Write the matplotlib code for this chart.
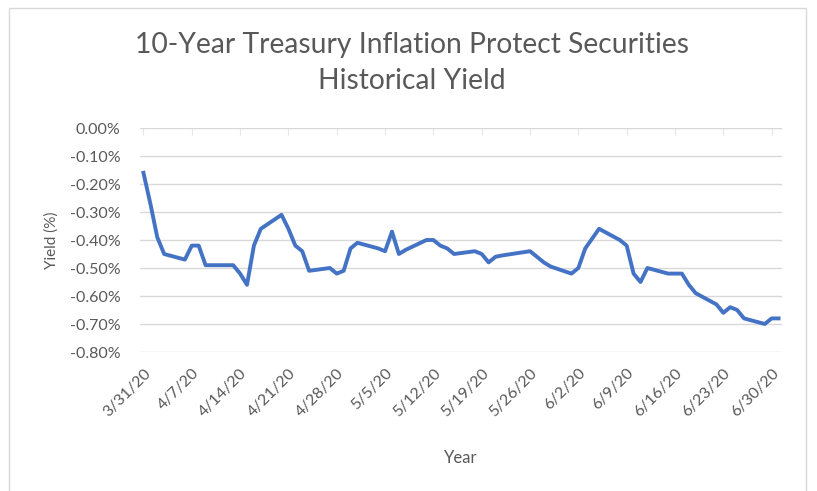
import numpy as np
import pandas as pd
import matplotlib.pyplot as plt
from matplotlib.patches import Rectangle

# TIPS 10-year yield (%), business days
dates = ['3/31/20', '4/1/20', '4/2/20', '4/3/20',
         '4/6/20', '4/7/20', '4/8/20', '4/9/20',
         '4/13/20', '4/14/20', '4/15/20', '4/16/20', '4/17/20',
         '4/20/20', '4/21/20', '4/22/20', '4/23/20', '4/24/20',
         '4/27/20', '4/28/20', '4/29/20', '4/30/20', '5/1/20',
         '5/4/20', '5/5/20', '5/6/20', '5/7/20', '5/8/20',
         '5/11/20', '5/12/20', '5/13/20', '5/14/20', '5/15/20',
         '5/18/20', '5/19/20', '5/20/20', '5/21/20', '5/22/20',
         '5/26/20', '5/27/20', '5/28/20', '5/29/20',
         '6/1/20', '6/2/20', '6/3/20', '6/4/20', '6/5/20',
         '6/8/20', '6/9/20', '6/10/20', '6/11/20', '6/12/20',
         '6/15/20', '6/16/20', '6/17/20', '6/18/20', '6/19/20',
         '6/22/20', '6/23/20', '6/24/20', '6/25/20', '6/26/20',
         '6/29/20', '6/30/20', '7/1/20']
yields = [-0.16, -0.27, -0.39, -0.45,
          -0.47, -0.42, -0.42, -0.49,
          -0.49, -0.52, -0.56, -0.42, -0.36,
          -0.31, -0.36, -0.42, -0.44, -0.51,
          -0.50, -0.52, -0.51, -0.43, -0.41,
          -0.43, -0.44, -0.37, -0.45, -0.435,
          -0.40, -0.40, -0.42, -0.43, -0.45,
          -0.44, -0.45, -0.48, -0.46, -0.455,
          -0.44, -0.46, -0.48, -0.495,
          -0.52, -0.50, -0.43, -0.395, -0.36,
          -0.40, -0.42, -0.52, -0.55, -0.50,
          -0.52, -0.52, -0.52, -0.56, -0.59,
          -0.63, -0.66, -0.64, -0.65, -0.68,
          -0.70, -0.68, -0.68]

tick_labels = ['3/31/20', '4/7/20', '4/14/20', '4/21/20', '4/28/20', '5/5/20',
               '5/12/20', '5/19/20', '5/26/20', '6/2/20', '6/9/20', '6/16/20',
               '6/23/20', '6/30/20']

x = pd.to_datetime(dates, format='%m/%d/%y')
ticks = pd.to_datetime(tick_labels, format='%m/%d/%y')

plt.rcParams['font.family'] = ['Lato', 'DejaVu Sans']
gray = '#595959'

fig = plt.figure(figsize=(8.17, 4.91), dpi=100)
ax = fig.add_axes([140 / 817, 1 - 352 / 491, 642 / 817, 224 / 491])

ax.plot(x, yields, color='#4472C4', lw=2.8, solid_joinstyle='round')

ax.set_ylim(-0.8, 0.0)
ax.set_yticks(np.arange(-0.8, 0.001, 0.1))
ax.yaxis.set_major_formatter(plt.FuncFormatter(lambda v, p: f'{v + 0.0:.2f}%'.replace('-0.00', '0.00')))
ax.set_xlim(x[0] - pd.Timedelta(hours=12), x[-1] + pd.Timedelta(hours=12))
ax.set_xticks(ticks)
ax.set_xticklabels(tick_labels, rotation=45, ha='right', rotation_mode='anchor')

ax.grid(axis='y', color='#d9d9d9', lw=1)
ax.set_axisbelow(True)
for s in ax.spines.values():
    s.set_visible(False)
ax.tick_params(axis='y', length=0, labelsize=11.5, labelcolor=gray, pad=14)
ax.tick_params(axis='x', bottom=False, top=True, labelbottom=True, labeltop=False,
               direction='in', length=5, color='#e6e6e6', labelsize=11.5,
               labelcolor=gray, pad=10)

ax.set_xlabel('Year', fontsize=12, color=gray, labelpad=22)
ax.set_ylabel('Yield (%)', fontsize=11, color=gray, labelpad=8)

fig.text(412 / 817, 1 - 63 / 491,
         '10-Year Treasury Inflation Protect Securities\nHistorical Yield',
         ha='center', va='center', fontsize=20.3, color=gray, linespacing=1.45)

fig.patches.append(Rectangle((9 / 817, -0.05), 797 / 817, 1.05 - 8 / 491,
                             transform=fig.transFigure, fill=False,
                             edgecolor='#d9d9d9', lw=1))

fig.savefig('out.png', dpi=100)
